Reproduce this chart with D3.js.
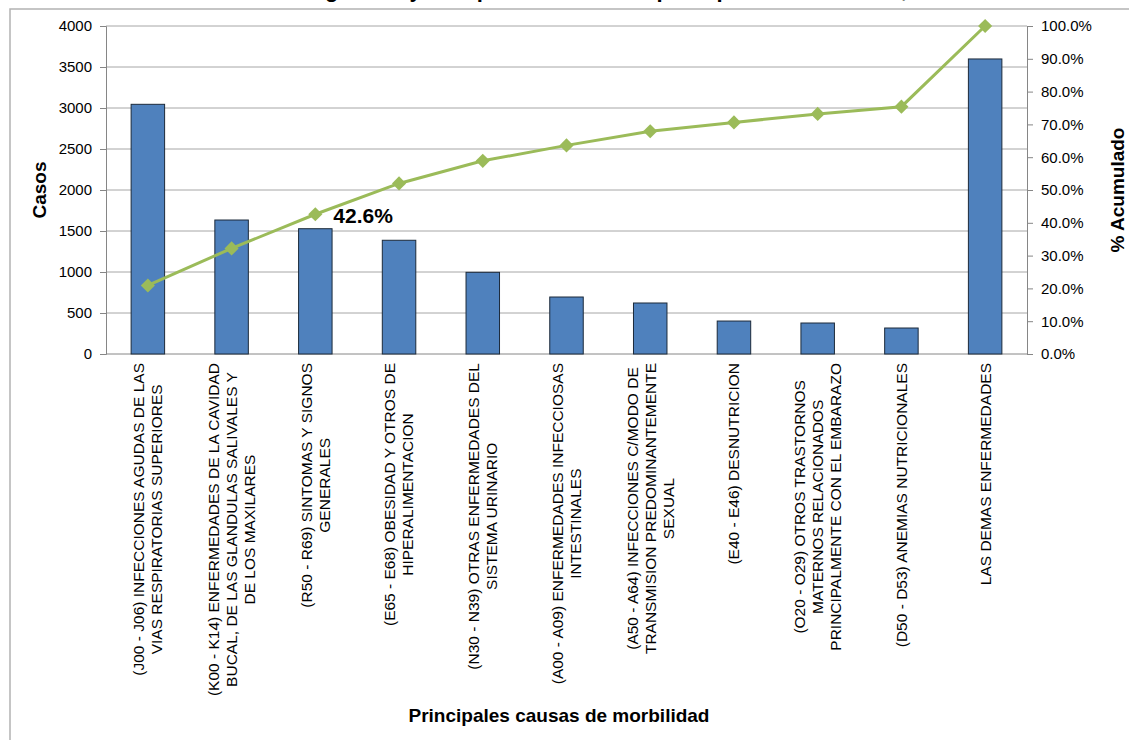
<!DOCTYPE html>
<html>
<head>
<meta charset="utf-8">
<script src="https://cdn.jsdelivr.net/npm/d3@7"></script>
<style>
  body { margin: 0; background: #fff; }
  svg { font-family: "Liberation Sans", Arial, sans-serif; display: block; }
</style>
</head>
<body>
<svg id="chart"></svg>
<script>
// categories (one array per wrapped label)
const categories = [
    ['(J00 - J06) INFECCIONES AGUDAS DE LAS', 'VIAS RESPIRATORIAS SUPERIORES'],
    ['(K00 - K14) ENFERMEDADES DE LA CAVIDAD', 'BUCAL, DE LAS GLANDULAS SALIVALES Y', 'DE LOS MAXILARES'],
    ['(R50 - R69) SINTOMAS Y SIGNOS', 'GENERALES'],
    ['(E65 - E68) OBESIDAD Y OTROS DE', 'HIPERALIMENTACION'],
    ['(N30 - N39) OTRAS ENFERMEDADES DEL', 'SISTEMA URINARIO'],
    ['(A00 - A09) ENFERMEDADES INFECCIOSAS', 'INTESTINALES'],
    ['(A50 - A64) INFECCIONES C/MODO DE', 'TRANSMISION PREDOMINANTEMENTE', 'SEXUAL'],
    ['(E40 - E46) DESNUTRICION'],
    ['(O20 - O29) OTROS TRASTORNOS', 'MATERNOS RELACIONADOS', 'PRINCIPALMENTE CON EL EMBARAZO'],
    ['(D50 - D53) ANEMIAS NUTRICIONALES'],
    ['LAS DEMAS ENFERMEDADES']
]
const casos = [3045, 1634, 1528, 1387, 996, 695, 622, 402, 378, 317, 3598]
const acumulado = [20.9, 32.2, 42.6, 52.0, 58.9, 63.6, 67.9, 70.6, 73.2, 75.4, 100.0]
const casosTicks = [0, 500, 1000, 1500, 2000, 2500, 3000, 3500, 4000]
const pctTicks = [0, 10, 20, 30, 40, 50, 60, 70, 80, 90, 100]
const labeledPoint = 2

const width = 1129
const height = 740
const margin = {top: 26, right: 102, bottom: 386, left: 106}
const innerW = width - margin.left - margin.right
const innerH = height - margin.top - margin.bottom

const svg = d3.select('#chart')
    .attr('width', width)
    .attr('height', height)

// outer frame (cut by the picture edges)
svg.append('rect')
    .attr('x', 10).attr('y', 9)
    .attr('width', 1140).attr('height', 760)
    .attr('fill', 'none')
    .attr('stroke', '#b3b3b3')
    .attr('stroke-width', 1.5)

// title, mostly above the visible area (only descenders show)
svg.append('text')
    .attr('x', 585).attr('y', -3)
    .attr('text-anchor', 'middle')
    .attr('font-size', 22)
    .attr('font-weight', 'bold')
    .text('Morbilidad general y diez primeras causas principales de consulta, 2013')

const g = svg.append('g')
    .attr('transform', `translate(${margin.left},${margin.top})`)

const xScale = d3.scaleBand()
    .domain(d3.range(categories.length))
    .range([0, innerW])
    .paddingInner(0.6)
    .paddingOuter(0.3)
const yScale = d3.scaleLinear()
    .domain([0, 4000])
    .range([innerH, 0])
const pScale = d3.scaleLinear()
    .domain([0, 100])
    .range([innerH, 0])
const cx = i => xScale(i) + xScale.bandwidth() / 2

// gridlines
g.append('g').selectAll('line').data(casosTicks.slice(1))
    .enter().append('line')
        .attr('x1', 0).attr('x2', innerW)
        .attr('y1', d => yScale(d)).attr('y2', d => yScale(d))
        .attr('stroke', '#a6a6a6')
        .attr('stroke-width', 1)

// left axis
const yAxis = g.append('g')
    .call(d3.axisLeft(yScale).tickValues(casosTicks).tickSize(6).tickPadding(8).tickFormat(d3.format('d')))
yAxis.select('.domain').attr('stroke', '#868686')
yAxis.selectAll('.tick line').attr('stroke', '#868686')
yAxis.selectAll('text').attr('font-size', 15).attr('fill', '#000')
    .attr('font-family', '"Liberation Sans", Arial, sans-serif')

// right axis
const pAxis = g.append('g')
    .attr('transform', `translate(${innerW},0)`)
    .call(d3.axisRight(pScale).tickValues(pctTicks).tickSize(6).tickPadding(8).tickFormat(d => d.toFixed(1) + '%'))
pAxis.select('.domain').attr('stroke', '#868686')
pAxis.selectAll('.tick line').attr('stroke', '#868686')
pAxis.selectAll('text').attr('font-size', 15).attr('fill', '#000')
    .attr('font-family', '"Liberation Sans", Arial, sans-serif')

// bottom axis line
g.append('line')
    .attr('x1', 0).attr('x2', innerW)
    .attr('y1', innerH).attr('y2', innerH)
    .attr('stroke', '#868686')

// bars
g.selectAll('rect.bar').data(casos)
    .enter().append('rect')
        .attr('class', 'bar')
        .attr('fill', '#4f81bd')
        .attr('stroke', '#1c2a3a')
        .attr('stroke-width', 1)
        .attr('x', (d, i) => xScale(i))
        .attr('width', xScale.bandwidth())
        .attr('y', d => yScale(d))
        .attr('height', d => innerH - yScale(d))

// cumulative line
const line = d3.line()
    .x((d, i) => cx(i))
    .y(d => pScale(d))
g.append('path')
    .datum(acumulado)
    .attr('d', line)
    .attr('fill', 'none')
    .attr('stroke', '#9bbb59')
    .attr('stroke-width', 3)
g.selectAll('path.marker').data(acumulado)
    .enter().append('path')
        .attr('class', 'marker')
        .attr('d', d3.symbol().type(d3.symbolSquare).size(100))
        .attr('transform', (d, i) => `translate(${cx(i)},${pScale(d)}) rotate(45)`)
        .attr('fill', '#9bbb59')

// data label
g.append('text')
    .attr('x', cx(labeledPoint) + 18)
    .attr('y', pScale(acumulado[labeledPoint]) + 9)
    .attr('font-size', 21)
    .attr('font-weight', 'bold')
    .text(acumulado[labeledPoint].toFixed(1) + '%')

// category labels, rotated, lines centred on each other
const lh = 18
categories.forEach((lines, i) => {
    const lg = g.append('g')
        .attr('transform', `translate(${cx(i)},${innerH + 9}) rotate(-90)`)
    const texts = lines.map((t, j) => lg.append('text')
        .attr('y', (j - (lines.length - 1) / 2) * lh)
        .attr('dy', '0.35em')
        .attr('font-size', 15.5)
        .attr('text-anchor', 'middle')
        .text(t))
    const maxW = d3.max(texts, t => t.node().getComputedTextLength())
    texts.forEach(t => t.attr('x', -maxW / 2))
})

// axis titles
svg.append('text')
    .attr('transform', `translate(46,${margin.top + innerH / 2}) rotate(-90)`)
    .attr('text-anchor', 'middle')
    .attr('font-size', 19)
    .attr('font-weight', 'bold')
    .text('Casos')
svg.append('text')
    .attr('transform', `translate(1124,${margin.top + innerH / 2}) rotate(-90)`)
    .attr('text-anchor', 'middle')
    .attr('font-size', 19)
    .attr('font-weight', 'bold')
    .text('% Acumulado')
svg.append('text')
    .attr('x', 559).attr('y', 722)
    .attr('text-anchor', 'middle')
    .attr('font-size', 19)
    .attr('font-weight', 'bold')
    .text('Principales causas de morbilidad')
</script>
</body>
</html>
